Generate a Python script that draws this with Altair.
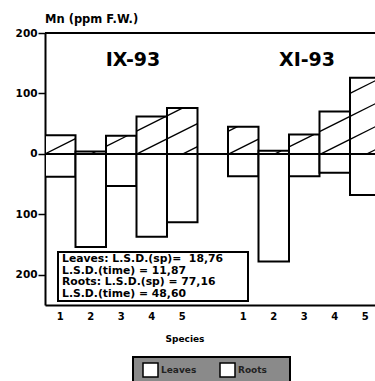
import altair as alt
import pandas as pd

# ---- data ----
species = [1, 2, 3, 4, 5]
periods = ["IX-93", "XI-93"]
period_offset = [0, 6]          # slot where each period's group starts
leaves_ix = [31, 4, 30, 62, 76]
roots_ix = [38, 154, 53, 137, 113]
leaves_xi = [45, 5, 32, 70, 126]
roots_xi = [37, 178, 37, 31, 68]
y_ticks = [200, 100, 0, -100, -200]
NB = "\u00a0"
lsd_lines = ["Leaves: L.S.D.(sp)=" + NB * 2 + "18,76",
             "L.S.D.(time)" + NB + "=" + NB + "11,87",
             "Roots: L.S.D.(sp)" + NB + "=" + NB + "77,16",
             NB + "L.S.D.(time)" + NB + "=" + NB + "48,60"]
legend_labels = ["Leaves", "Roots"]

leaves = [leaves_ix, leaves_xi]
roots = [roots_ix, roots_xi]

rows = []
for p, off in enumerate(period_offset):
    for k, sp in enumerate(species):
        s = off + sp - 1
        rows.append(dict(period=periods[p], species=sp, organ="Leaves",
                         x0=s, x1=s + 1, xc=s + 0.5, v=leaves[p][k]))
        rows.append(dict(period=periods[p], species=sp, organ="Roots",
                         x0=s, x1=s + 1, xc=s + 0.5, v=-roots[p][k]))
df = pd.DataFrame(rows)
lab_df = df[df["organ"] == "Leaves"].copy()
lab_df["lab"] = lab_df["species"].astype(str)

# hatch pattern for the leaves bars (parallel lines clipped to each bar)
W, H = 330, 272
XMAX = 330 / 30.5
YMIN, YMAX = -250, 200
px_per_x = W / XMAX
px_per_y = H / (YMAX - YMIN)
slope = 0.5 * px_per_x / px_per_y          # data units per slot
gap = 23 / px_per_y                         # vertical spacing in data units
hatch = []
for r in rows:
    if r["organ"] != "Leaves":
        continue
    x0, x1, v = r["x0"], r["x1"], r["v"]
    for j in range(-5, 60):
        c = j * gap
        s_lo = max(x0, c / slope)
        s_hi = min(x1, (v + c) / slope)
        if s_lo < s_hi:
            hatch.append(dict(hx=s_lo, hy=slope * s_lo - c,
                              hx2=s_hi, hy2=slope * s_hi - c))
hdf = pd.DataFrame(hatch)

FONT = "DejaVu Sans"
xs = alt.Scale(domain=[0, XMAX], nice=False, zero=False)
ys = alt.Scale(domain=[YMIN, YMAX], nice=False, zero=False)

base = alt.Chart(df)
bars = base.mark_rect(fill="white", stroke="black", strokeWidth=2, clip=True).encode(
    x=alt.X("x0:Q", scale=xs,
            axis=alt.Axis(title=None, ticks=False, grid=False, labels=False,
                          domainColor="black", domainWidth=2)),
    x2="x1:Q",
    y=alt.Y("v:Q", scale=ys,
            axis=alt.Axis(values=y_ticks, title=None, grid=False,
                          labelExpr="format(abs(datum.value), 'd')",
                          labelFont=FONT, labelFontWeight="bold", labelFontSize=10.5,
                          labelColor="black", labelPadding=1,
                          tickColor="black", tickWidth=1.5, tickSize=7,
                          domainColor="black", domainWidth=2)),
    y2=alt.datum(0),
)

xlabels = alt.Chart(lab_df).mark_text(font=FONT, fontWeight="bold", fontSize=10,
                                      baseline="middle", align="center", color="black").encode(
    x=alt.X("xc:Q", scale=xs), y=alt.value(H + 12), text="lab:N")

hatch_lines = alt.Chart(hdf).mark_rule(color="black", strokeWidth=1.3, clip=True).encode(
    x=alt.X("hx:Q", scale=xs), x2="hx2:Q",
    y=alt.Y("hy:Q", scale=ys), y2="hy2:Q",
)

one = pd.DataFrame({"a": [0]})
c1 = alt.Chart(one)

zero_line = c1.mark_rule(color="black", strokeWidth=2).encode(
    y=alt.datum(0, scale=ys), x=alt.value(0), x2=alt.value(W))
top_line = c1.mark_rule(color="black", strokeWidth=2).encode(
    y=alt.datum(YMAX, scale=ys), x=alt.value(0), x2=alt.value(W))

ytitle = c1.mark_text(text="Mn (ppm F.W.)", font=FONT, fontWeight="bold",
                      fontSize=11.5, align="left", baseline="middle").encode(
    x=alt.value(0), y=alt.value(-13))

ptitle1 = c1.mark_text(text=periods[0], font=FONT, fontSize=19, fontWeight="bold",
                       align="center", baseline="middle").encode(
    x=alt.value(88), y=alt.value(27))
ptitle2 = c1.mark_text(text=periods[1], font=FONT, fontSize=19, fontWeight="bold",
                       align="center", baseline="middle").encode(
    x=alt.value(262), y=alt.value(27))

lsd_box = c1.mark_rect(fill="white", stroke="black", strokeWidth=2).encode(
    x=alt.value(13), x2=alt.value(203), y=alt.value(219), y2=alt.value(268))
lsd_text = c1.mark_text(text=lsd_lines, font=FONT, fontWeight="bold", fontSize=10.8,
                        lineHeight=11.7, align="left", baseline="top").encode(
    x=alt.value(17), y=alt.value(220))

xtitle = c1.mark_text(text="Species", font=FONT, fontWeight="bold", fontSize=9,
                      align="center", baseline="middle").encode(
    x=alt.value(140), y=alt.value(306))

leg_box = c1.mark_rect(fill="#8a8a8a", stroke="black", strokeWidth=2).encode(
    x=alt.value(88), x2=alt.value(245), y=alt.value(324), y2=alt.value(350))
leg_sq1 = c1.mark_rect(fill="white", stroke="black", strokeWidth=1.5).encode(
    x=alt.value(98), x2=alt.value(113), y=alt.value(330), y2=alt.value(344))
leg_sq2 = c1.mark_rect(fill="white", stroke="black", strokeWidth=1.5).encode(
    x=alt.value(175), x2=alt.value(190), y=alt.value(330), y2=alt.value(344))
leg_t1 = c1.mark_text(text=legend_labels[0], font=FONT, fontWeight="bold", fontSize=9,
                      align="left", baseline="middle", color="#222").encode(
    x=alt.value(116), y=alt.value(337))
leg_t2 = c1.mark_text(text=legend_labels[1], font=FONT, fontWeight="bold", fontSize=9,
                      align="left", baseline="middle", color="#222").encode(
    x=alt.value(193), y=alt.value(337))

chart = alt.layer(
    bars, hatch_lines, zero_line, top_line, xlabels, ytitle, ptitle1, ptitle2,
    lsd_box, lsd_text, xtitle, leg_box, leg_sq1, leg_sq2, leg_t1, leg_t2,
).properties(
    width=W, height=H,
    autosize=alt.AutoSizeParams(type="none"),
    padding={"left": 45, "top": 33, "right": 0, "bottom": 76},
).configure_view(stroke=None).configure(background="white")

chart.save("out.html", embed_options={"renderer": "svg", "actions": False})
